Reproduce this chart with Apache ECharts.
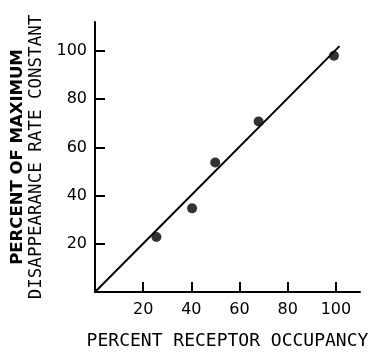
<!DOCTYPE html>
<html>
<head>
<meta charset="utf-8">
<script src="https://cdn.jsdelivr.net/npm/echarts@6/dist/echarts.min.js"></script>
<style>
  html, body { margin: 0; padding: 0; background: #fff; }
  #chart { width: 372px; height: 352px; }
</style>
</head>
<body>
<div id="chart"></div>
<script>
// Receptor occupancy vs. disappearance rate constant (both in percent)
var occupancy = [25.5, 40.3, 49.9, 67.9, 99.2];
var rateConstant = [22.8, 34.7, 53.7, 70.7, 98.0];
// Fitted proportionality line, drawn through the origin
var fitX = [0, 101.5];
var fitY = [0, 102];
var tickValues = [20, 40, 60, 80, 100];

var points = occupancy.map(function (x, i) { return [x, rateConstant[i]]; });
var fitLine = fitX.map(function (x, i) { return [x, fitY[i]]; });

var tickFont = { fontFamily: 'DejaVu Sans', fontSize: 16, color: '#000' };

var chart = echarts.init(document.getElementById('chart'), null, { renderer: 'canvas' });
chart.setOption({
  animation: false,
  backgroundColor: '#fff',
  grid: { left: 95, right: 12, top: 22, bottom: 60, containLabel: false, outerBoundsMode: 'none' },
  xAxis: {
    type: 'value', min: 0, max: 110, interval: 20,
    name: 'PERCENT RECEPTOR OCCUPANCY',
    nameLocation: 'middle', nameGap: 40,
    nameTextStyle: { fontFamily: 'DejaVu Sans Mono', fontSize: 18, color: '#000' },
    axisLine: { show: true, lineStyle: { color: '#000', width: 2 } },
    axisTick: { show: true, inside: true, length: 10, customValues: tickValues,
                lineStyle: { color: '#000', width: 2 } },
    axisLabel: Object.assign({ margin: 10, customValues: tickValues }, tickFont),
    splitLine: { show: false }
  },
  yAxis: {
    type: 'value', min: 0, max: 112, interval: 20,
    name: '{a|PERCENT OF MAXIMUM}\n{b|DISAPPEARANCE RATE CONSTANT}',
    nameLocation: 'middle', nameGap: 47, nameRotate: 90,
    nameTextStyle: {
      color: '#000',
      rich: {
        a: { fontFamily: 'DejaVu Sans', fontWeight: 'bold', fontSize: 16.5, lineHeight: 19, color: '#000' },
        b: { fontFamily: 'DejaVu Sans Mono', fontSize: 17.5, lineHeight: 19, color: '#000' }
      }
    },
    axisLine: { show: true, lineStyle: { color: '#000', width: 2 } },
    axisTick: { show: true, inside: true, length: 10, customValues: tickValues,
                lineStyle: { color: '#000', width: 2 } },
    axisLabel: Object.assign({ margin: 8, customValues: tickValues }, tickFont),
    splitLine: { show: false }
  },
  series: [
    {
      type: 'line', data: fitLine, showSymbol: false, symbol: 'none',
      lineStyle: { color: '#000', width: 2 }, z: 2
    },
    {
      type: 'scatter', data: points, symbol: 'circle', symbolSize: 10,
      itemStyle: { color: '#000' }, z: 3
    }
  ]
});
</script>
</body>
</html>
